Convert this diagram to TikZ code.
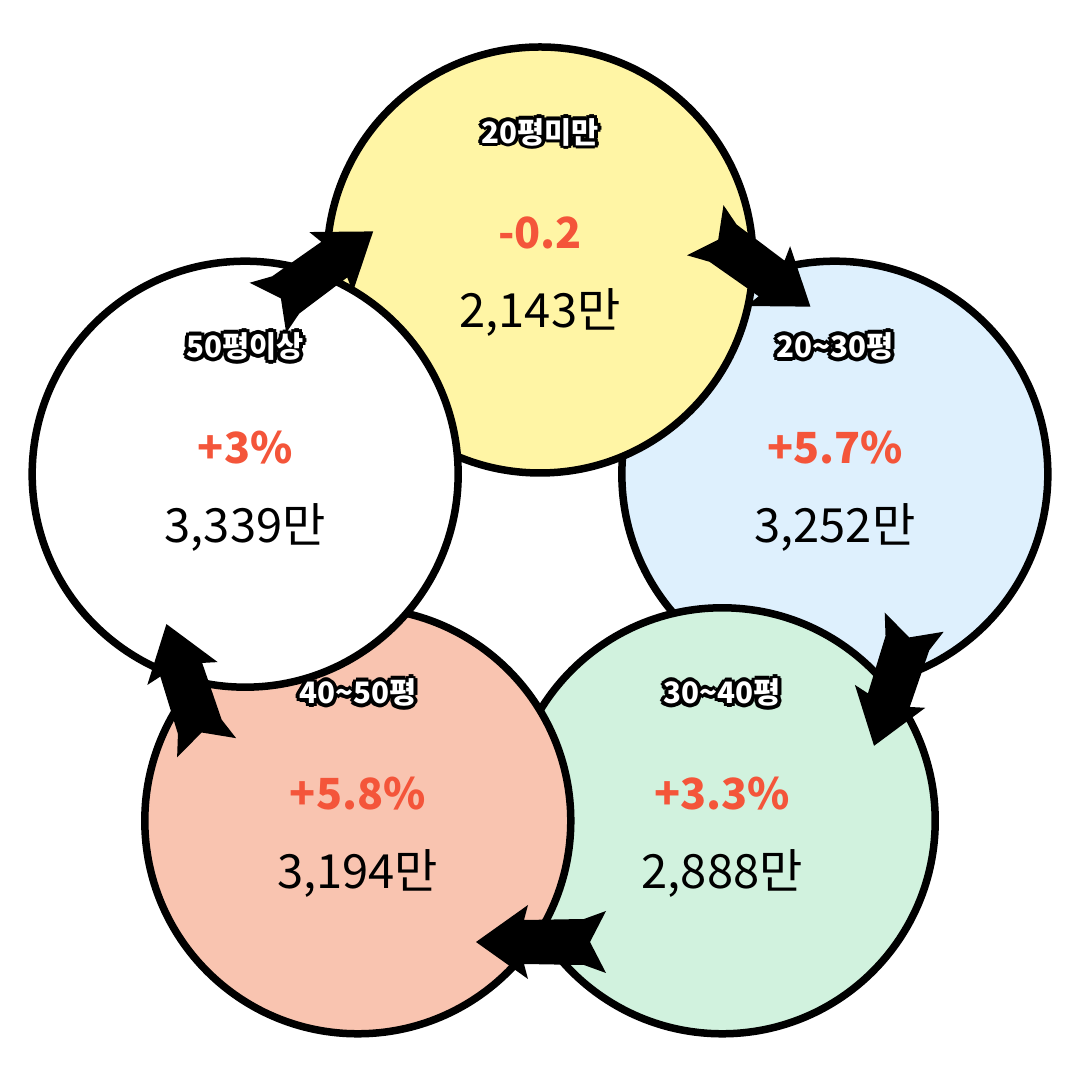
\documentclass[tikz,border=0pt]{standalone}
\usepackage{fontspec}
\setmainfont{Noto Sans CJK KR}
\usetikzlibrary{calc}
\definecolor{areaYellow}{HTML}{FFF5A5}
\definecolor{areaBlue}{HTML}{DEF0FD}
\definecolor{areaGreen}{HTML}{D1F2DE}
\definecolor{areaSalmon}{HTML}{F9C4B0}
\definecolor{rateRed}{HTML}{F4553A}
\tikzset{
  area/.style={circle, draw=black, line width=0.075cm, minimum size=4.26cm, inner sep=0pt},
  areatitle/.style={font=\bfseries\fontsize{8.4}{9}\selectfont},
  ratetext/.style={font=\bfseries\fontsize{12.2}{14}\selectfont, text=rateRed},
  pricetext/.style={font=\fontsize{13.4}{15}\selectfont},
  flowarrow/.pic={
    \fill[black] (0.64,0) -- (0.12,0.37) -- (0.16,0.22) -- (-0.44,0.23)
      -- (-0.66,0.31) -- (-0.50,0) -- (-0.66,-0.31) -- (-0.44,-0.23)
      -- (0.16,-0.22) -- (0.12,-0.37) -- cycle;
  }
}
% white text with a black rim
\newcommand\rimcopy[3]{\rlap{\kern#1\raisebox{#2}{#3}}}
\newcommand\rimmed[1]{{\color{black}%
  \rimcopy{1.1pt}{0pt}{#1}\rimcopy{-1.1pt}{0pt}{#1}%
  \rimcopy{0pt}{1.1pt}{#1}\rimcopy{0pt}{-1.1pt}{#1}%
  \rimcopy{.8pt}{.8pt}{#1}\rimcopy{-.8pt}{.8pt}{#1}%
  \rimcopy{.8pt}{-.8pt}{#1}\rimcopy{-.8pt}{-.8pt}{#1}}%
  \textcolor{white}{#1}}
% title, rate, price
\newcommand\arealabel[4]{%
  \node[areatitle] (#1-t) at ($(#1)+(0,1.28)$) {\rimmed{#2}};
  \node[ratetext] (#1-r) at ($(#1)+(0,0.27)$) {#3};
  \node[pricetext] (#1-p) at ($(#1)+(0,-0.53)$) {#4};
}

\begin{document}
\begin{tikzpicture}
\useasboundingbox (0,0) rectangle (10.8,10.8);
\coordinate (hub) at (5.40,5.10);

\node[area, fill=areaBlue] (a2030) at ($(hub)+(18:3.1)$) {};
\node[area, fill=areaGreen] (a3040) at ($(hub)+(-54:3.1)$) {};
\node[area, fill=areaSalmon] (a4050) at ($(hub)+(-126:3.1)$) {};
\node[area, fill=areaYellow] (a20) at ($(hub)+(90:3.1)$) {};
\node[area, fill=white] (a50) at ($(hub)+(162:3.1)$) {};

\arealabel{a20}{20평미만}{-0.2}{2,143만}
\arealabel{a2030}{20\textasciitilde30평}{+5.7\%}{3,252만}
\arealabel{a3040}{30\textasciitilde40평}{+3.3\%}{2,888만}
\arealabel{a4050}{40\textasciitilde50평}{+5.8\%}{3,194만}
\arealabel{a50}{50평이상}{+3\%}{3,339만}

% clockwise flow
\foreach \a in {126,54,-18,-90,198}
  \path (hub) ++(\a:3.72) pic[rotate=\a-90] {flowarrow};
\end{tikzpicture}
\end{document}
